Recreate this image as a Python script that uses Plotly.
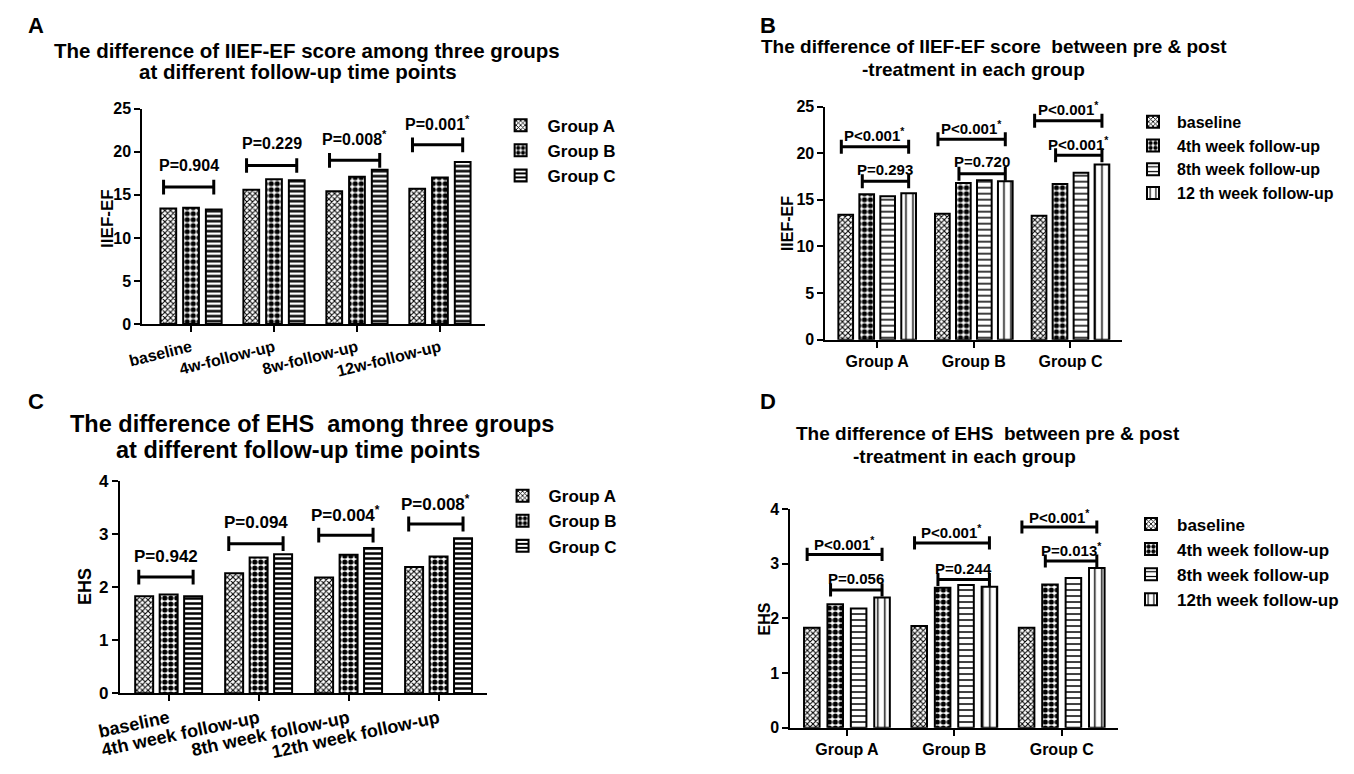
"""
Four-panel bar chart: IIEF-EF and EHS scores by group and follow-up time.
"""

import plotly.graph_objects as go

# the page body has an 8px margin, so the figure is a bit smaller than the window
OFF = 8
FIG_W, FIG_H = 1336, 756
FONT = 'Liberation Sans, Arial, sans-serif'

# Category labels
TIME_LABELS_A = ['baseline', '4w-follow-up', '8w-follow-up', '12w-follow-up']
TIME_LABELS_C = ['baseline', '4th week follow-up', '8th week follow-up', '12th week follow-up']
GROUP_LABELS = ['Group A', 'Group B', 'Group C']
VISIT_LABELS_B = ['baseline', '4th week follow-up', '8th week follow-up', '12 th week follow-up']
VISIT_LABELS_D = ['baseline', '4th week follow-up', '8th week follow-up', '12th week follow-up']

# IIEF-EF means per group (baseline, 4w, 8w, 12w)
IIEF_GROUP_A = [13.4, 15.6, 15.4, 15.7]
IIEF_GROUP_B = [13.5, 16.8, 17.1, 17.0]
IIEF_GROUP_C = [13.3, 16.7, 17.9, 18.8]

# EHS means per group (baseline, 4w, 8w, 12w)
EHS_GROUP_A = [1.83, 2.26, 2.18, 2.38]
EHS_GROUP_B = [1.86, 2.56, 2.61, 2.58]
EHS_GROUP_C = [1.83, 2.62, 2.74, 2.92]

# P values
P_IIEF_TIME = ['P=0.904', 'P=0.229', 'P=0.008*', 'P=0.001*']
P_IIEF_OUTER = ['P<0.001*', 'P<0.001*', 'P<0.001*']
P_IIEF_INNER = ['P=0.293', 'P=0.720', 'P<0.001*']
P_EHS_TIME = ['P=0.942', 'P=0.094', 'P=0.004*', 'P=0.008*']
P_EHS_OUTER = ['P<0.001*', 'P<0.001*', 'P<0.001*']
P_EHS_INNER = ['P=0.056', 'P=0.244', 'P=0.013*']

# bracket heights (axis units)
BR_IIEF_TIME = [15.9, 18.4, 19.0, 20.8]
BR_IIEF_OUTER = [20.7, 21.5, 23.5]
BR_IIEF_INNER = [17.0, 17.8, 19.8]
BR_EHS_TIME = [2.19, 2.82, 2.98, 3.19]
BR_EHS_OUTER = [3.17, 3.38, 3.67]
BR_EHS_INNER = [2.52, 2.71, 3.05]


def pat(shape, size, solidity):
    return dict(shape=shape, size=size, solidity=solidity, fgcolor='black',
                bgcolor='white', fillmode='replace')


PAT_DOTS = pat('x', 4, 0.45)
PAT_CHECK = pat('.', 6, 0.6)
PAT_HLINE_DARK = pat('-', 5, 0.5)
PAT_HLINE = pat('-', 6, 0.25)
PAT_VLINE = pat('|', 7, 0.2)


# window pixel -> paper coords
def px(x):
    return (x - OFF) / FIG_W


def py(y):
    return 1 - (y - OFF) / FIG_H


def sup_star(t):
    return t.replace('*', '<sup>*</sup>')


def add_panel(fig, idx, box, xr, ymax, dtick, cats, series, names, patterns,
              step, bw, tickangle, xfont, yfont, legend_key):
    sfx = '' if idx == 1 else str(idx)
    n = len(series)
    for i, (vals, name, p) in enumerate(zip(series, names, patterns)):
        fig.add_trace(go.Bar(
            x=list(range(len(cats))), y=vals, name=name,
            xaxis='x' + sfx, yaxis='y' + sfx,
            width=bw, offset=(i - (n - 1) / 2) * step - bw / 2,
            marker=dict(color='white', line=dict(color='black', width=2), pattern=p),
            legend=legend_key, legendgroup=f'{legend_key}_{i}',
        ))
    x0, y0, x1, y1 = box
    axis_common = dict(showline=True, linecolor='black', linewidth=2, ticks='outside',
                       ticklen=6, tickwidth=2, tickcolor='black', showgrid=False,
                       zeroline=False, fixedrange=True)
    fig.layout['xaxis' + sfx] = dict(
        domain=[px(x0), px(x1)], range=list(xr), anchor='y' + sfx,
        tickvals=list(range(len(cats))), ticktext=cats, tickangle=tickangle,
        tickfont=dict(family=FONT, size=xfont, color='black', weight='bold'),
        **axis_common)
    fig.layout['yaxis' + sfx] = dict(
        domain=[py(y1), py(y0)], range=[0, ymax], dtick=dtick, anchor='x' + sfx,
        tickfont=dict(family=FONT, size=yfont, color='black', weight='bold'),
        **axis_common)
    return 'x' + sfx, 'y' + sfx


def add_bracket(fig, xa, ya, cat, i0, i1, n, step, bw, y, cap, text, shift, size):
    xl = cat + (i0 - (n - 1) / 2) * step - 0.3 * bw
    xr = cat + (i1 - (n - 1) / 2) * step
    line = dict(color='black', width=3)
    fig.add_shape(type='line', xref=xa, yref=ya, x0=xl, x1=xr, y0=y, y1=y, line=line)
    for xx in (xl, xr):
        fig.add_shape(type='line', xref=xa, yref=ya, x0=xx, x1=xx, y0=y - cap, y1=y + cap, line=line)
    fig.add_annotation(x=(xl + xr) / 2, y=y, xref=xa, yref=ya, text=sup_star(text),
                       showarrow=False, yshift=shift, yanchor='middle',
                       font=dict(family=FONT, size=size, color='black', weight='bold'))


def add_text(fig, x, y, text, size, angle=0):
    fig.add_annotation(x=px(x), y=py(y), xref='paper', yref='paper', text=text,
                       showarrow=False, xanchor='center', yanchor='middle', textangle=angle,
                       font=dict(family=FONT, size=size, color='black', weight='bold'))


fig = go.Figure()

# ---- Panel A: IIEF-EF by time point ----
stepA, bwA = 0.274, 0.19
xa, ya = add_panel(fig, 1, (123, 102, 474, 323), (-0.588, 3.541), 25, 5, TIME_LABELS_A,
                   [IIEF_GROUP_A, IIEF_GROUP_B, IIEF_GROUP_C], GROUP_LABELS,
                   [PAT_DOTS, PAT_CHECK, PAT_HLINE_DARK], stepA, bwA, -14, 16, 16, 'legend')
for k, (y, t) in enumerate(zip(BR_IIEF_TIME, P_IIEF_TIME)):
    add_bracket(fig, xa, ya, k, 0, 2, 3, stepA, bwA, y, 0.85, t, 22, 16)

# ---- Panel B: IIEF-EF by group ----
iief_by_visit = [[g[v] for g in (IIEF_GROUP_A, IIEF_GROUP_B, IIEF_GROUP_C)] for v in range(4)]
stepB, bwB = 0.217, 0.152
xa, ya = add_panel(fig, 2, (823, 100, 1127, 339), (-0.535, 2.535), 25, 5, GROUP_LABELS,
                   iief_by_visit, VISIT_LABELS_B,
                   [PAT_DOTS, PAT_CHECK, PAT_HLINE, PAT_VLINE], stepB, bwB, 0, 16, 16, 'legend2')
for k in range(3):
    add_bracket(fig, xa, ya, k, 0, 3, 4, stepB, bwB, BR_IIEF_OUTER[k], 0.75, P_IIEF_OUTER[k], 12, 15)
    add_bracket(fig, xa, ya, k, 1, 3, 4, stepB, bwB, BR_IIEF_INNER[k], 0.75, P_IIEF_INNER[k], 12, 15)

# ---- Panel C: EHS by time point ----
stepC, bwC = 0.272, 0.2
xa, ya = add_panel(fig, 3, (100, 484, 476, 701.7), (-0.543, 3.536), 4, 1, TIME_LABELS_C,
                   [EHS_GROUP_A, EHS_GROUP_B, EHS_GROUP_C], GROUP_LABELS,
                   [PAT_DOTS, PAT_CHECK, PAT_HLINE_DARK], stepC, bwC, -12, 18, 17, 'legend3')
for k, (y, t) in enumerate(zip(BR_EHS_TIME, P_EHS_TIME)):
    add_bracket(fig, xa, ya, k, 0, 2, 3, stepC, bwC, y, 0.14, t, 21, 17)

# ---- Panel D: EHS by group ----
ehs_by_visit = [[g[v] for g in (EHS_GROUP_A, EHS_GROUP_B, EHS_GROUP_C)] for v in range(4)]
stepD, bwD = 0.218, 0.145
xa, ya = add_panel(fig, 4, (787, 512.7, 1123, 737), (-0.527, 2.527), 4, 1, GROUP_LABELS,
                   ehs_by_visit, VISIT_LABELS_D,
                   [PAT_DOTS, PAT_CHECK, PAT_HLINE, PAT_VLINE], stepD, bwD, 0, 16, 16, 'legend4')
for k in range(3):
    add_bracket(fig, xa, ya, k, 0, 3, 4, stepD, bwD, BR_EHS_OUTER[k], 0.12, P_EHS_OUTER[k], 11, 15)
    add_bracket(fig, xa, ya, k, 1, 3, 4, stepD, bwD, BR_EHS_INNER[k], 0.12, P_EHS_INNER[k], 11, 15)

# ---- titles, panel letters, axis titles ----
add_text(fig, 14, 17, 'A', 22)
add_text(fig, 764, 17, 'B', 22)
add_text(fig, 14, 402, 'C', 22)
add_text(fig, 764, 402, 'D', 22)

add_text(fig, 292, 42, 'The difference of IIEF-EF score among three groups', 20.5)
add_text(fig, 283, 64, 'at different follow-up time points', 20.5)
add_text(fig, 996, 38, 'The difference of IIEF-EF score  between pre &amp; post', 19)
add_text(fig, 975, 62, '-treatment in each group', 19)
add_text(fig, 297, 426, 'The difference of EHS  among three groups', 23.5)
add_text(fig, 283, 452, 'at different follow-up time points', 23.5)
add_text(fig, 990, 435, 'The difference of EHS  between pre &amp; post', 19)
add_text(fig, 965, 459, '-treatment in each group', 19)

add_text(fig, 88, 215, 'IIEF-EF', 17, angle=-90)
add_text(fig, 784, 220, 'IIEF-EF', 16, angle=-90)
add_text(fig, 65, 592, 'EHS', 18, angle=-90)
add_text(fig, 761, 625, 'EHS', 16, angle=-90)


def legend_box(x, y, size, gap, itemwidth):
    return dict(x=px(x), y=py(y), xanchor='left', yanchor='top', bgcolor='rgba(0,0,0,0)',
                tracegroupgap=gap, traceorder='normal', itemwidth=itemwidth,
                font=dict(family=FONT, size=size, color='black', weight='bold'))


fig.update_layout(
    width=FIG_W, height=FIG_H,
    margin=dict(l=0, r=0, t=0, b=0),
    paper_bgcolor='white', plot_bgcolor='white',
    barmode='overlay',
    showlegend=True,
    legend=legend_box(483, 101, 17, 0, 44),
    legend2=legend_box(1134, 98, 16, 4, 38),
    legend3=legend_box(486, 481, 17, 1, 42),
    legend4=legend_box(1130, 510, 17, 1, 42),
)

fig.write_html('out.html')
